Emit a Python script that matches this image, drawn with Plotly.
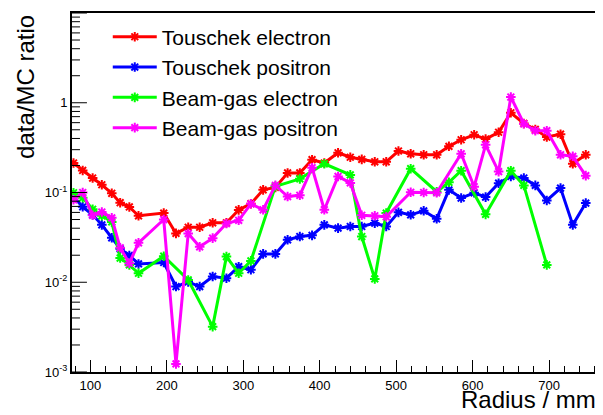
import math
import plotly.graph_objects as go

# radius bins (mm)
radius = [78, 90, 103, 115, 128, 139, 151, 163, 196, 212, 228, 243, 260, 278, 294,
          310, 326, 342, 358, 374, 390, 406, 424, 440, 455, 472, 487, 503, 519, 536,
          553, 569, 585, 602, 617, 634, 650, 667, 682, 697, 715, 731, 748]

touschek_electron = [0.213, 0.176, 0.145, 0.122, 0.098, 0.077, 0.069, 0.055, 0.059, 0.035,
                     0.041, 0.041, 0.046, 0.046, 0.064, 0.075, 0.107, 0.114, 0.165, 0.165,
                     0.232, 0.213, 0.277, 0.247, 0.234, 0.220, 0.220, 0.290, 0.270, 0.263,
                     0.263, 0.327, 0.387, 0.440, 0.394, 0.469, 0.774, 0.588, 0.504, 0.415,
                     0.446, 0.209, 0.263]

touschek_positron = [0.0896, 0.0693, 0.0564, 0.0436, 0.0313, 0.0236, 0.0199, 0.0160, 0.0166,
                     0.00896, 0.0101, 0.00896, 0.0116, 0.0111, 0.0149, 0.0138, 0.0207, 0.0207,
                     0.0297, 0.0323, 0.0333, 0.0436, 0.0401, 0.0418, 0.0418, 0.0456, 0.0418,
                     0.0601, 0.0564, 0.0625, 0.0509, 0.107, 0.0867, 0.0993, 0.0889, 0.127,
                     0.151, 0.145, 0.120, 0.0815, 0.112, 0.0436, 0.0762]

beamgas_electron = [0.0993, 0.0873, 0.065, 0.055, 0.047, 0.0186, 0.0156, 0.0126, 0.0195, None,
                    0.0106, None, 0.0032, 0.0193, 0.0126, 0.0173, None, 0.117, None, 0.142,
                    None, 0.209, None, 0.157, 0.0323, 0.0109, 0.059, None, 0.184, None,
                    0.102, 0.130, 0.175, None, 0.0571, None, 0.175, 0.120, None, 0.0156,
                    None, None, None]

beamgas_positron = [0.0829, 0.100, 0.0557, 0.0606, 0.0522, 0.0242, 0.0163, 0.0275, 0.0500,
                    0.00123, 0.0349, 0.0248, 0.0310, 0.0451, 0.0490, 0.0748, 0.0642, 0.120,
                    0.0902, 0.0931, 0.189, 0.0642, 0.151, 0.128, 0.0557, 0.0550, 0.0536, None,
                    0.1005, 0.100, 0.0993, None, 0.270, 0.116, 0.340, 0.171, 1.158, 0.583,
                    0.488, 0.488, 0.263, 0.253, 0.154]

y_ticks = [0.001, 0.01, 0.1, 1, 10]
y_ticktext = ["10<sup>-3</sup>", "10<sup>-2</sup>", "10<sup>-1</sup>", "1", "10"]

series = [
    ("Touschek electron", touschek_electron, "#ff0000"),
    ("Touschek positron", touschek_positron, "#0000ff"),
    ("Beam-gas electron", beamgas_electron, "#00ff00"),
    ("Beam-gas positron", beamgas_positron, "#ff00ff"),
]

FONT = "Liberation Sans, Arial, Helvetica, sans-serif"
Y_LOG_RANGE = [-3, 1]

fig = go.Figure()
for i, (name, vals, color) in enumerate(series):
    fig.add_trace(go.Scatter(
        x=radius, y=vals, name=name, mode="lines+markers",
        connectgaps=True, legendgroup=f"g{i}",
        line=dict(color=color, width=3),
        marker=dict(symbol="asterisk-open", size=8, color=color,
                    line=dict(color=color, width=2)),
    ))

# the page body has an 8px margin, so the figure is sized to fit the window
fig.update_layout(
    width=595, height=407,
    margin=dict(l=64, r=3, t=5, b=43),
    paper_bgcolor="white", plot_bgcolor="white",
    font=dict(family=FONT, color="black", size=13),
    showlegend=True,
    legend=dict(x=0.068, y=0.99, xanchor="left", yanchor="top",
                bgcolor="rgba(0,0,0,0)", font=dict(size=21, family=FONT),
                tracegroupgap=0, itemwidth=44),
)

fig.update_xaxes(
    range=[76, 764], tick0=0, dtick=100,
    ticks="inside", ticklen=12, tickwidth=1, tickcolor="black",
    minor=dict(ticks="inside", ticklen=6, dtick=20, tickcolor="black", tickwidth=1),
    showline=True, linecolor="black", linewidth=2, mirror=True,
    showgrid=False, zeroline=False, tickfont=dict(size=13),
)
fig.update_yaxes(
    type="log", range=Y_LOG_RANGE,
    tickmode="array", tickvals=y_ticks, ticktext=y_ticktext,
    ticks="", showline=True, linecolor="black", linewidth=2, mirror=True,
    showgrid=False, zeroline=False, tickfont=dict(size=13),
)

# ROOT-style inward y ticks (major + 2..9 minor per decade)
plot_w = 595 - 64 - 3
span = Y_LOG_RANGE[1] - Y_LOG_RANGE[0]
minor_y = [m * d for d in y_ticks[:-1] for m in range(2, 10)]
for vals, length in ((y_ticks, 15), (minor_y, 8)):
    for v in vals:
        yp = (math.log10(v) - Y_LOG_RANGE[0]) / span
        fig.add_shape(type="line", xref="paper", yref="paper",
                      x0=0, x1=length / plot_w, y0=yp, y1=yp,
                      line=dict(color="black", width=1))

# ROOT style axis titles: right/top aligned
fig.add_annotation(text="Radius / mm", xref="paper", yref="paper",
                   x=1.0, y=-0.12, xanchor="right", yanchor="bottom",
                   showarrow=False, font=dict(size=24, family=FONT))
fig.add_annotation(text="data/MC ratio", xref="paper", yref="paper",
                   x=-0.06, y=1.0, xanchor="right", yanchor="top", textangle=-90,
                   showarrow=False, font=dict(size=24, family=FONT))

fig.write_html("out.html")
